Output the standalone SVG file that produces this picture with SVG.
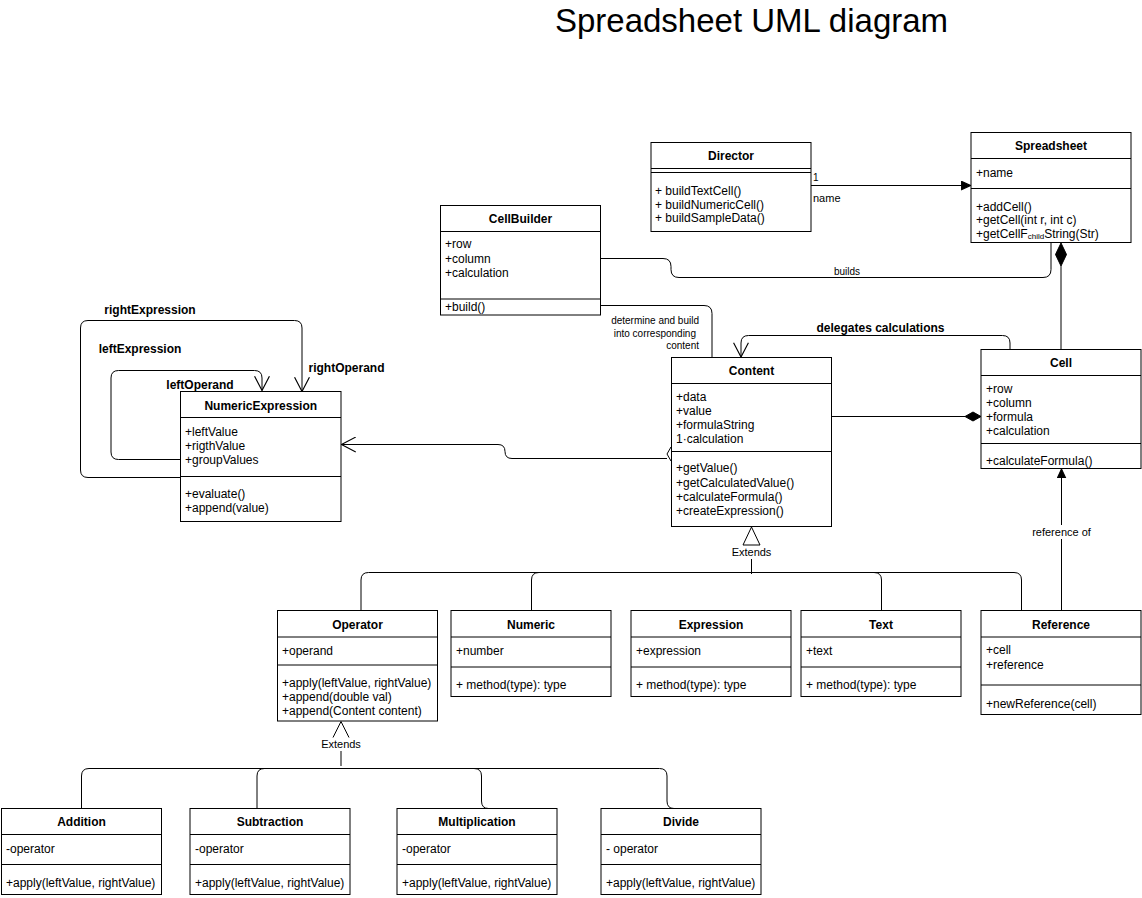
<svg xmlns="http://www.w3.org/2000/svg" width="1142" height="898" viewBox="0 0 1142 898">
<defs>
<style>
.box{fill:#fff;stroke:#000;stroke-width:1}
.sep{fill:none;stroke:#000;stroke-width:1}
.ln{fill:none;stroke:#000;stroke-width:1}
.t{font-family:"Liberation Sans",Arial,sans-serif;font-size:12px;fill:#000}
.hb{font-weight:bold;text-anchor:middle}
.lbl{font-family:"Liberation Sans",Arial,sans-serif;fill:#000}
.bl{font-weight:bold;font-size:12px}
</style>
<marker id="open" markerUnits="userSpaceOnUse" markerWidth="16" markerHeight="16" viewBox="0 0 14 14" refX="13" refY="7" orient="auto">
<path d="M0.5,0.5 L13,7 L0.5,13.5" fill="none" stroke="#000" stroke-width="1"/>
</marker>
<marker id="block" markerUnits="userSpaceOnUse" markerWidth="10" markerHeight="10" viewBox="0 0 9 9" refX="8.5" refY="4.5" orient="auto">
<path d="M0.5,0.8 L8.5,4.5 L0.5,8.2 Z" fill="#000" stroke="#000" stroke-width="1"/>
</marker>
</defs>
<rect x="0" y="0" width="1142" height="898" fill="#fff"/>

<text class="lbl" x="751.5" y="32" font-size="33" text-anchor="middle">Spreadsheet UML diagram</text>

<g id="connectors">
  <!-- Director -> Spreadsheet -->
  <path class="ln" d="M811,185.5 L970.5,185.5" marker-end="url(#block)"/>
  <text class="lbl" x="813" y="181" font-size="10">1</text>
  <text class="lbl" x="813" y="202" font-size="11">name</text>
  <!-- builds -->
  <path class="ln" d="M601,258.5 L663,258.5 Q671,258.5 671,266.5 L671,269.5 Q671,277.5 679,277.5 L1043,277.5 Q1051,277.5 1051,269.5 L1051,243"/>
  <text class="lbl" x="847" y="275" font-size="10" text-anchor="middle">builds</text>
  <!-- determine and build -->
  <path class="ln" d="M601,305.5 L704,305.5 Q712,305.5 712,313.5 L712,357.5"/>
  <text class="lbl" x="699" y="323.5" font-size="10" text-anchor="end">determine and build</text>
  <text class="lbl" x="696" y="336.5" font-size="10" text-anchor="end">into corresponding</text>
  <text class="lbl" x="699" y="348.5" font-size="10" text-anchor="end">content</text>
  <!-- delegates calculations -->
  <path class="ln" d="M1010,349.5 L1010,343 Q1010,335.5 1002.5,335.5 L748.5,335.5 Q741,335.5 741,343 L741,357" marker-end="url(#open)"/>
  <text class="lbl bl" x="880.5" y="331.5" text-anchor="middle">delegates calculations</text>
  <!-- Spreadsheet composition Cell -->
  <path class="ln" d="M1061,266 L1061,349.5"/>
  <polygon points="1061,243 1066.5,254.5 1061,266 1055.5,254.5" fill="#000" stroke="#000" stroke-width="1"/>
  <!-- Content composition Cell -->
  <path class="ln" d="M831.5,416.5 L965,416.5"/>
  <polygon points="981,416.5 973,412 965,416.5 973,421" fill="#000" stroke="#000" stroke-width="1"/>
  <!-- Reference -> Cell -->
  <path class="ln" d="M1061.5,610.5 L1061.5,469" marker-end="url(#block)"/>
  <rect x="1029" y="525" width="65" height="14" fill="#fff"/>
  <text class="lbl" x="1061.5" y="536" font-size="11" text-anchor="middle">reference of</text>
  <!-- Content aggregation -> NumericExpression -->
  <path class="ln" d="M667,458.5 L512,458.5 Q505,458.5 505,451.5 Q505,444.5 498,444.5 L341.5,444.5" marker-end="url(#open)"/>
  <polygon points="671,447 675,454 671,461 667,454" fill="#fff" stroke="#000" stroke-width="1"/>
  <!-- NumericExpression self loops -->
  <path class="ln" d="M180.5,477.5 L88,477.5 Q80.5,477.5 80.5,470 L80.5,328 Q80.5,320.5 88,320.5 L294.5,320.5 Q302,320.5 302,328 L302,391.5" marker-end="url(#open)"/>
  <path class="ln" d="M180.5,459.5 L118.5,459.5 Q111,459.5 111,452 L111,378 Q111,370.5 118.5,370.5 L254.5,370.5 Q262,370.5 262,378 L262,390.5" marker-end="url(#open)"/>
  <text class="lbl bl" x="150" y="314" text-anchor="middle">rightExpression</text>
  <text class="lbl bl" x="140" y="352.5" text-anchor="middle">leftExpression</text>
  <text class="lbl bl" x="200" y="388.5" text-anchor="middle">leftOperand</text>
  <text class="lbl bl" x="346.5" y="372" text-anchor="middle">rightOperand</text>
  <!-- Content extends -->
  <polygon points="751.5,527 760,545 743,545" fill="#fff" stroke="#000" stroke-width="1"/>
  <text class="lbl" x="751.5" y="556" font-size="11" text-anchor="middle">Extends</text>
  <path class="ln" d="M751.5,559 L751.5,574"/>
  <path class="ln" d="M361,610.5 L361,580 Q361,572.5 368.5,572.5 L1014,572.5 Q1021.5,572.5 1021.5,580 L1021.5,610.5"/>
  <path class="ln" d="M531.5,610.5 L531.5,580 Q531.5,572.5 539,572.5"/>
  <path class="ln" d="M874,572.5 Q881.5,572.5 881.5,580 L881.5,610.5"/>
  <!-- Operator extends -->
  <path class="ln" d="M333,737.5 L341,721.5 L349,737.5"/>
  <text class="lbl" x="341" y="748" font-size="11" text-anchor="middle">Extends</text>
  <path class="ln" d="M341,751 L341,766"/>
  <path class="ln" d="M81.5,808.5 L81.5,776 Q81.5,768.5 89,768.5 L659.5,768.5 Q667,768.5 667,776 L667,801 Q667,808.5 674,808.5"/>
  <path class="ln" d="M257,808.5 L257,776 Q257,768.5 264.5,768.5"/>
  <path class="ln" d="M474,768.5 Q481.5,768.5 481.5,776 L481.5,801 Q481.5,808.5 488.5,808.5"/>
</g>

<g id="director">
  <rect class="box" x="651" y="142.5" width="160" height="89"/>
  <path class="sep" d="M651,168.5 H811 M651,172.5 H811"/>
  <text class="t hb" x="731" y="160">Director</text>
  <text class="t" x="655" y="195">+ buildTextCell()</text>
  <text class="t" x="655" y="208.5">+ buildNumericCell()</text>
  <text class="t" x="655" y="222">+ buildSampleData()</text>
</g>

<g id="spreadsheet">
  <rect class="box" x="971" y="132.5" width="160" height="110"/>
  <path class="sep" d="M971,158.5 H1131 M971,188.5 H1131"/>
  <text class="t hb" x="1051" y="150">Spreadsheet</text>
  <text class="t" x="976" y="176.5">+name</text>
  <text class="t" x="976" y="210.5">+addCell()</text>
  <text class="t" x="976" y="224">+getCell(int r, int c)</text>
  <text class="t" x="976" y="237.5">+getCellF<tspan font-size="8" dy="1">child</tspan><tspan dy="-1">String(Str)</tspan></text>
</g>

<g id="cellbuilder">
  <rect class="box" x="440.5" y="205.5" width="160" height="109.5"/>
  <path class="sep" d="M440.5,231.5 H600.5 M440.5,299 H600.5"/>
  <text class="t hb" x="520.5" y="223">CellBuilder</text>
  <text class="t" x="445" y="248">+row</text>
  <text class="t" x="445" y="262.5">+column</text>
  <text class="t" x="445" y="276.5">+calculation</text>
  <text class="t" x="445" y="311">+build()</text>
</g>

<g id="content">
  <rect class="box" x="671.5" y="357.5" width="160" height="169"/>
  <path class="sep" d="M671.5,383.5 H831.5 M671.5,451.5 H831.5"/>
  <text class="t hb" x="751.5" y="375">Content</text>
  <text class="t" x="676" y="400.5">+data</text>
  <text class="t" x="676" y="415">+value</text>
  <text class="t" x="676" y="429">+formulaString</text>
  <text class="t" x="676" y="442.5">1·calculation</text>
  <text class="t" x="676" y="471.5">+getValue()</text>
  <text class="t" x="676" y="486.5">+getCalculatedValue()</text>
  <text class="t" x="676" y="500.5">+calculateFormula()</text>
  <text class="t" x="676" y="515">+createExpression()</text>
</g>

<g id="cell">
  <rect class="box" x="981" y="349.5" width="160" height="119"/>
  <path class="sep" d="M981,375.5 H1141 M981,443.5 H1141"/>
  <text class="t hb" x="1061" y="366.5">Cell</text>
  <text class="t" x="986" y="393">+row</text>
  <text class="t" x="986" y="406.5">+column</text>
  <text class="t" x="986" y="420.5">+formula</text>
  <text class="t" x="986" y="434.5">+calculation</text>
  <text class="t" x="986" y="465">+calculateFormula()</text>
</g>

<g id="numericexpression">
  <rect class="box" x="180.5" y="391.5" width="160.5" height="130"/>
  <path class="sep" d="M180.5,417.5 H341 M180.5,476.5 H341"/>
  <text class="t hb" x="260.75" y="409.5">NumericExpression</text>
  <text class="t" x="185" y="435.5">+leftValue</text>
  <text class="t" x="185" y="449.5">+rigthValue</text>
  <text class="t" x="185" y="463.5">+groupValues</text>
  <text class="t" x="185" y="498">+evaluate()</text>
  <text class="t" x="185" y="511.5">+append(value)</text>
</g>

<g id="operator">
  <rect class="box" x="277.5" y="610.5" width="160" height="110.5"/>
  <path class="sep" d="M277.5,637 H437.5 M277.5,665 H437.5"/>
  <text class="t hb" x="357.5" y="628.5">Operator</text>
  <text class="t" x="282" y="655">+operand</text>
  <text class="t" x="282" y="687">+apply(leftValue, rightValue)</text>
  <text class="t" x="282" y="700.5">+append(double val)</text>
  <text class="t" x="282" y="714.5">+append(Content content)</text>
</g>

<g id="numeric">
  <rect class="box" x="451" y="610.5" width="160" height="86"/>
  <path class="sep" d="M451,637 H611 M451,667 H611"/>
  <text class="t hb" x="531" y="628.5">Numeric</text>
  <text class="t" x="456" y="655">+number</text>
  <text class="t" x="456" y="689">+ method(type): type</text>
</g>

<g id="expression">
  <rect class="box" x="631" y="610.5" width="160" height="86"/>
  <path class="sep" d="M631,637 H791 M631,667 H791"/>
  <text class="t hb" x="711" y="628.5">Expression</text>
  <text class="t" x="636" y="655">+expression</text>
  <text class="t" x="636" y="689">+ method(type): type</text>
</g>

<g id="text">
  <rect class="box" x="801" y="610.5" width="160" height="86"/>
  <path class="sep" d="M801,637 H961 M801,667 H961"/>
  <text class="t hb" x="881" y="628.5">Text</text>
  <text class="t" x="806" y="655">+text</text>
  <text class="t" x="806" y="689">+ method(type): type</text>
</g>

<g id="reference">
  <rect class="box" x="981" y="610.5" width="160" height="104"/>
  <path class="sep" d="M981,637 H1141 M981,685 H1141"/>
  <text class="t hb" x="1061" y="628.5">Reference</text>
  <text class="t" x="986" y="654">+cell</text>
  <text class="t" x="986" y="668.5">+reference</text>
  <text class="t" x="986" y="707.5">+newReference(cell)</text>
</g>

<g id="addition">
  <rect class="box" x="1.5" y="808.5" width="160" height="86"/>
  <path class="sep" d="M1.5,834.5 H161.5 M1.5,864.5 H161.5"/>
  <text class="t hb" x="81.5" y="826">Addition</text>
  <text class="t" x="6" y="852.5">-operator</text>
  <text class="t" x="6" y="886.5">+apply(leftValue, rightValue)</text>
</g>

<g id="subtraction">
  <rect class="box" x="190" y="808.5" width="160" height="86"/>
  <path class="sep" d="M190,834.5 H350 M190,864.5 H350"/>
  <text class="t hb" x="270" y="826">Subtraction</text>
  <text class="t" x="195" y="852.5">-operator</text>
  <text class="t" x="195" y="886.5">+apply(leftValue, rightValue)</text>
</g>

<g id="multiplication">
  <rect class="box" x="397" y="808.5" width="160" height="86"/>
  <path class="sep" d="M397,834.5 H557 M397,864.5 H557"/>
  <text class="t hb" x="477" y="826">Multiplication</text>
  <text class="t" x="402" y="852.5">-operator</text>
  <text class="t" x="402" y="886.5">+apply(leftValue, rightValue)</text>
</g>

<g id="divide">
  <rect class="box" x="601" y="808.5" width="160" height="86"/>
  <path class="sep" d="M601,834.5 H761 M601,864.5 H761"/>
  <text class="t hb" x="681" y="826">Divide</text>
  <text class="t" x="606" y="852.5">- operator</text>
  <text class="t" x="606" y="886.5">+apply(leftValue, rightValue)</text>
</g>
</svg>
